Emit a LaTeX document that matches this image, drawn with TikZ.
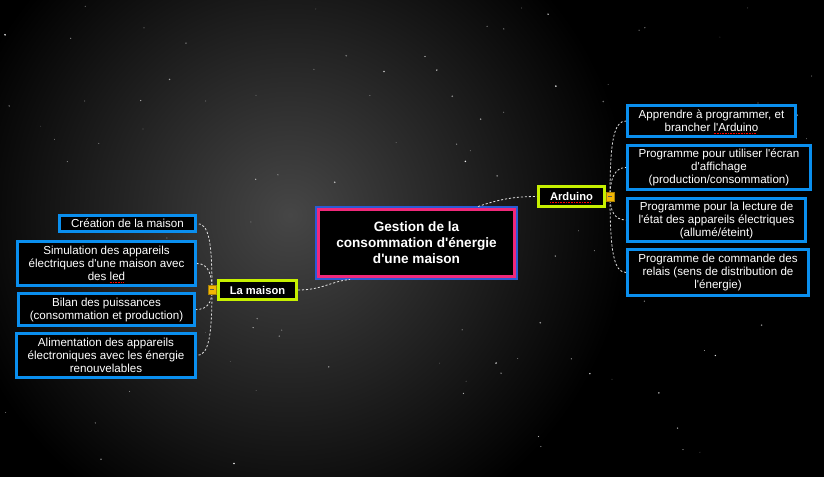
\documentclass[tikz,border=0pt]{standalone}
\usepackage{fontspec}
\newfontfamily\arial{Liberation Sans}
\usetikzlibrary{calc}
\definecolor{boxblue}{HTML}{0A8FEF}
\definecolor{limeb}{HTML}{C6F000}
\definecolor{pinkb}{HTML}{F0287A}
\definecolor{cblue}{HTML}{2B5BD6}
\definecolor{knob}{HTML}{F2B705}
\definecolor{sky}{HTML}{464646}
\newcommand\spellmark[1]{\sbox0{#1}\leavevmode\rlap{\raisebox{-1.8pt}[0pt][0pt]{\color{red}\hbox to\wd0{\leaders\hbox{\rule{0.6pt}{0.5pt}\kern0.6pt}\hfill}}}\usebox0}
\begin{document}
\begin{tikzpicture}[x=0.75pt,y=-0.75pt,
  sz/.style 2 args={minimum width=#1*0.75pt,minimum height=#2*0.75pt},
  box/.style={draw=boxblue,line width=2.25pt,fill=black,text=white,align=center,
    inner sep=0pt,font=\arial\fontsize{8.7}{9.75}\selectfont},
  topic/.style={draw=limeb,line width=2.25pt,fill=black,text=white,inner sep=0pt,
    font=\arial\bfseries\fontsize{8.4}{10}\selectfont},
  central/.style={draw=pinkb,line width=2.25pt,fill=black,text=white,align=center,
    inner sep=0pt,font=\arial\bfseries\fontsize{10.2}{12}\selectfont},
  link/.style={draw=white!88!black,line width=0.6pt,dash pattern=on 1.6pt off 1.4pt},
  knobst/.style={fill=knob,draw=knob!70!black,line width=0.3pt,minimum width=6pt,
    minimum height=6.5pt,inner sep=0pt,
    path picture={\draw[black!65,line width=0.6pt]
      ([xshift=1.6pt]path picture bounding box.west) --
      ([xshift=-1.6pt]path picture bounding box.east);}}]
\useasboundingbox (0,0) rectangle (824,476);
% sky
\fill[black] (-6,-6) rectangle (830,482);
\begin{scope}
\clip (0,0) rectangle (824,476);
\shade[inner color=sky,outer color=black] (290,215) circle (340);
\pgfmathsetseed{11}
\foreach \i in {1,...,110}{
  \pgfmathsetmacro\sx{5+rnd*814}
  \pgfmathsetmacro\sy{5+rnd*466}
  \pgfmathsetmacro\sr{0.25+rnd*0.45}
  \pgfmathsetmacro\so{0.35+rnd*0.6}
  \fill[white,opacity=\so] (\sx,\sy) circle[radius=\sr pt];
}
\end{scope}

% central node
\node[central,sz={196}{67}] (c) at (416.5,243)
  {Gestion de la\\consommation d'énergie\\d'une maison};
\draw[cblue,line width=1.5pt] ([shift={(-1.3,1.3)}]c.south west) rectangle ([shift={(1.3,-1.3)}]c.north east);

% main topics
\node[topic,sz={78}{19}] (m) at (257.5,290) {La maison};
\node[topic,sz={66}{20}] (a) at (571.5,196.5) {\spellmark{Arduino}};

% left children
\node[box,sz={136}{16}] (b1) at (127.5,223.5) {Création de la maison};
\node[box,sz={178}{44}] (b2) at (106.5,263.5) {Simulation des appareils\\électriques d'une maison avec\\des \spellmark{led}};
\node[box,sz={176}{32}] (b3) at (106.5,309.5) {Bilan des puissances\\(consommation et production)};
\node[box,sz={179}{44}] (b4) at (106,355.5) {Alimentation des appareils\\électroniques avec les énergie\\renouvelables};

% right children
\node[box,sz={168}{31}] (r1) at (711.5,121) {Apprendre à programmer, et\\brancher \spellmark{l'Arduino}};
\node[box,sz={183}{44}] (r2) at (719,167.5) {Programme pour utiliser l'écran\\d'affichage\\(production/consommation)};
\node[box,sz={178}{43}] (r3) at (716.5,220) {Programme pour la lecture de\\l'état des appareils électriques\\(allumé/éteint)};
\node[box,sz={181}{46}] (r4) at (718,272.5) {Programme de commande des\\relais (sens de distribution de\\l'énergie)};

% connector ends
\coordinate (cb) at (350,279.5);
\coordinate (ct) at (478,206.5);
\coordinate (kl) at (212,289.5);
\coordinate (kr) at (610,196.5);

% connectors
\draw[link] (m.east) .. controls (322,290) and (332,281) .. (cb);
\draw[link] (ct) .. controls (500,199) and (515,196.5) .. (a.west);

\draw[link] (kl) .. controls (212,242) and (209,223.5) .. (b1.east);
\draw[link] (kl) .. controls (212,274) and (208,263.5) .. (b2.east);
\draw[link] (kl) .. controls (212,302) and (208,309.5) .. (b3.east);
\draw[link] (kl) .. controls (212,334) and (209,355.5) .. (b4.east);

\draw[link] (kr) .. controls (610,140) and (614,121) .. (r1.west);
\draw[link] (kr) .. controls (610,180) and (614,167.5) .. (r2.west);
\draw[link] (kr) .. controls (610,210) and (614,220) .. (r3.west);
\draw[link] (kr) .. controls (610,252) and (614,272.5) .. (r4.west);

% collapse knobs
\node[knobst] (kL) at (kl) {};
\node[knobst] (kR) at (kr) {};
\end{tikzpicture}
\end{document}
